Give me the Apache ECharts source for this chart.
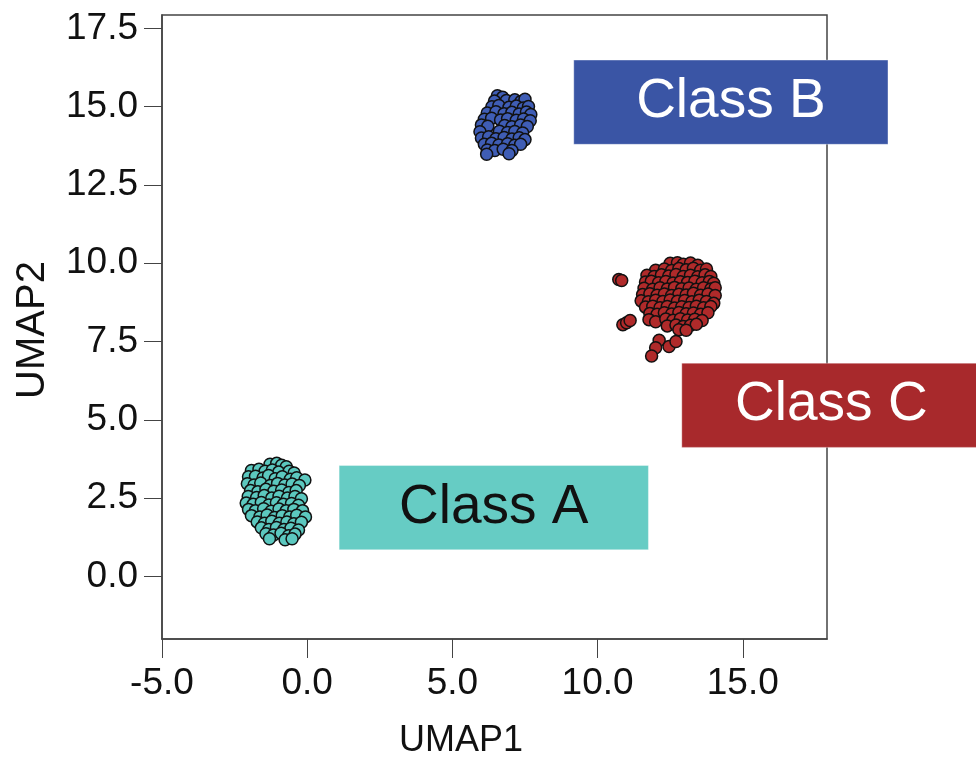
<!DOCTYPE html>
<html><head><meta charset="utf-8">
<script src="https://cdn.jsdelivr.net/npm/echarts@6/dist/echarts.min.js"></script>
<style>html,body{margin:0;padding:0;background:#fff}#c{width:976px;height:759px}</style>
</head><body><div id="c"></div>
<script>
const xTicks = [-5, 0, 5, 10, 15];
const yTicks = [0, 2.5, 5, 7.5, 10, 12.5, 15, 17.5];
const xName = 'UMAP1';
const yName = 'UMAP2';
const classNames = ['Class A', 'Class B', 'Class C'];

const classA = [
[-1.28,3.58],[-1.05,3.61],[-0.88,3.55],[-0.72,3.5],
[-1.92,3.38],[-1.66,3.42],[-1.45,3.36],[-1.2,3.4],[-0.98,3.33],[-0.62,3.36],[-0.45,3.3],
[-2.02,3.18],[-1.78,3.2],[-1.52,3.14],[-1.33,3.22],[-1.1,3.12],[-0.86,3.18],[-0.58,3.1],[-0.36,3.15],[-0.08,3.08],
[-2.06,2.96],[-1.83,2.92],[-1.6,2.98],[-1.27,2.9],[-1.02,2.97],[-0.77,2.92],[-0.52,2.95],[-0.27,2.9],
[-1.95,2.74],[-1.7,2.7],[-1.42,2.78],[-1.15,2.72],[-0.88,2.76],[-0.63,2.68],[-0.38,2.74],
[-2.03,2.55],[-1.74,2.52],[-1.48,2.58],[-1.22,2.5],[-0.97,2.56],[-0.68,2.5],[-0.42,2.55],[-0.2,2.48],
[-2.1,2.34],[-1.86,2.3],[-1.58,2.36],[-1.32,2.28],[-1.06,2.35],[-0.82,2.3],[-0.54,2.33],[-0.3,2.27],
[-2.02,2.14],[-1.78,2.1],[-1.5,2.16],[-1.24,2.08],[-0.97,2.15],[-0.72,2.1],[-0.46,2.14],[-0.16,2.1],
[-1.92,1.94],[-1.63,1.9],[-1.38,1.96],[-1.12,1.88],[-0.86,1.94],[-0.6,1.9],[-0.36,1.95],[-0.06,1.9],
[-1.72,1.74],[-1.47,1.7],[-1.22,1.76],[-0.96,1.7],[-0.7,1.74],[-0.46,1.68],[-0.2,1.73],
[-1.58,1.55],[-1.32,1.5],[-1.06,1.56],[-0.8,1.5],[-0.56,1.54],[-0.3,1.48],
[-1.42,1.36],[-1.16,1.32],[-0.9,1.38],[-0.64,1.3],[-0.42,1.35],
[-1.3,1.2],[-0.76,1.17],[-0.52,1.2]
];

const classB = [
[6.55,15.35],[6.73,15.3],
[6.45,15.18],[6.86,15.2],[7.15,15.22],[7.36,15.17],[7.5,15.24],
[6.36,15.0],[6.6,15.04],[6.95,14.98],[7.2,15.02],[7.44,14.96],[7.62,15.01],
[6.2,14.8],[6.5,14.84],[6.78,14.78],[7.05,14.82],[7.3,14.77],[7.55,14.83],[7.7,14.75],
[6.1,14.6],[6.35,14.63],[6.66,14.58],[6.9,14.62],[7.2,14.57],[7.45,14.61],[7.68,14.55],
[6.0,14.42],[6.22,14.38],[6.8,14.4],[7.05,14.36],[7.35,14.42],[7.58,14.37],
[5.95,14.2],[6.62,14.22],[6.9,14.18],[7.15,14.21],[7.42,14.16],
[6.0,14.0],[6.25,14.04],[6.5,13.98],[6.78,14.02],[7.05,13.97],[7.3,14.01],[7.5,13.95],
[6.1,13.8],[6.35,13.83],[6.6,13.78],[6.9,13.82],[7.15,13.77],[7.35,13.8],
[6.2,13.62],[6.46,13.6],[6.75,13.64],[7.05,13.6],
[6.18,13.48],[6.95,13.5]
];

const classC = [
[10.73,9.48],[10.83,9.45],
[10.87,8.04],[11.0,8.1],[11.12,8.17],
[12.12,7.54],[12.0,7.3],[11.86,7.04],[12.46,7.34],[12.7,7.5],
[12.5,10.0],[12.75,10.02],[12.95,9.97],[13.2,10.01],[13.45,9.94],
[12.0,9.78],[12.3,9.82],[12.55,9.77],[12.8,9.83],[13.05,9.79],[13.3,9.84],[13.55,9.78],[13.75,9.82],
[11.7,9.62],[11.95,9.58],[12.2,9.63],[12.45,9.59],[12.7,9.64],[12.95,9.58],[13.2,9.62],[13.45,9.57],[13.7,9.63],[13.9,9.58],
[11.65,9.4],[11.85,9.43],[12.1,9.38],[12.35,9.42],[12.6,9.37],[12.85,9.41],[13.1,9.39],[13.35,9.43],[13.6,9.38],[13.85,9.42],[14.0,9.36],
[11.6,9.2],[11.9,9.17],[12.15,9.22],[12.4,9.18],[12.65,9.23],[12.9,9.19],[13.15,9.21],[13.4,9.17],[13.65,9.22],[13.9,9.18],[14.05,9.22],
[11.55,9.0],[11.8,9.03],[12.05,8.98],[12.3,9.02],[12.55,8.97],[12.8,9.01],[13.05,8.99],[13.3,9.04],[13.55,8.98],[13.8,9.02],[14.05,8.97],
[11.5,8.8],[11.75,8.77],[12.0,8.82],[12.25,8.78],[12.5,8.83],[12.75,8.79],[13.0,8.81],[13.25,8.77],[13.5,8.82],[13.75,8.78],[14.0,8.72],
[11.65,8.6],[11.9,8.63],[12.15,8.58],[12.4,8.62],[12.65,8.57],[12.9,8.61],[13.15,8.59],[13.4,8.63],[13.65,8.58],[13.9,8.62],
[11.8,8.4],[12.05,8.37],[12.3,8.42],[12.55,8.38],[12.8,8.43],[13.05,8.39],[13.3,8.41],[13.55,8.37],[13.8,8.42],
[11.77,8.2],[12.0,8.13],[12.35,8.22],[12.6,8.18],[12.85,8.23],[13.1,8.19],[13.35,8.21],[13.6,8.17],
[12.4,8.0],[12.7,8.03],[12.95,7.98],[13.2,8.02],[13.4,8.05],
[12.8,7.88],[13.05,7.86]
];

// label box extents in data units: [x0, x1, y0, y1]
const boxA = [1.1, 11.75, 0.85, 3.54];
const boxB = [9.18, 20.0, 13.8, 16.49];
const boxC = [12.9, 23.2, 4.12, 6.81];

const pointColors = ['#5cc8bf', '#3f5db5', '#b02a2a'];
const boxColors = ['#66ccc4', '#3a55a5', '#a8292c'];
const boxTextColors = ['#111111', '#ffffff', '#ffffff'];

const chart = echarts.init(document.getElementById('c'));
const font = 'Liberation Sans, Arial, sans-serif';

function scatter(data, i) {
  return {
    type: 'scatter', data: data, symbolSize: 12,
    itemStyle: { color: pointColors[i], borderColor: '#111', borderWidth: 1.5, opacity: 1 },
    emphasis: { disabled: true }, z: 2
  };
}

chart.setOption({
  animation: false,
  backgroundColor: '#fff',
  grid: { left: 162, top: 15, width: 665, height: 624, show: true, borderColor: '#444', borderWidth: 1.5, backgroundColor: 'transparent' },
  xAxis: {
    type: 'value', min: -5, max: 17.9,
    axisLine: { show: true, onZero: false, lineStyle: { color: '#444', width: 1.5 } },
    axisTick: { show: true, length: 19, lineStyle: { color: '#444', width: 1 }, customValues: xTicks },
    axisLabel: { customValues: xTicks, formatter: v => v.toFixed(1), fontSize: 37, color: '#111', fontFamily: font, margin: 26 },
    splitLine: { show: false }
  },
  yAxis: {
    type: 'value', min: -2, max: 17.93,
    axisLine: { show: true, onZero: false, lineStyle: { color: '#444', width: 1.5 } },
    axisTick: { show: true, length: 18, lineStyle: { color: '#444', width: 1 }, customValues: yTicks },
    axisLabel: { customValues: yTicks, formatter: v => v.toFixed(1), fontSize: 37, color: '#111', fontFamily: font, margin: 24 },
    splitLine: { show: false }
  },
  graphic: [
    { type: 'text', x: 461, y: 741, style: { text: xName, fontSize: 36, fontFamily: font, fill: '#111', textAlign: 'center', textVerticalAlign: 'middle' } },
    { type: 'text', x: 33, y: 330, rotation: Math.PI / 2, style: { text: yName, fontSize: 40, fontFamily: font, fill: '#111', textAlign: 'center', textVerticalAlign: 'middle' } }
  ],
  series: [
    scatter(classA, 0), scatter(classB, 1), scatter(classC, 2),
    {
      type: 'custom', clip: false, z: 5,
      encode: { x: [0, 1], y: [2, 3] },
      data: [boxA, boxB, boxC],
      renderItem: function (params, api) {
        const i = params.dataIndex;
        const p0 = api.coord([api.value(0), api.value(3)]);
        const p1 = api.coord([api.value(1), api.value(2)]);
        return {
          type: 'rect',
          shape: { x: p0[0], y: p0[1], width: p1[0] - p0[0], height: p1[1] - p0[1] },
          style: { fill: boxColors[i], stroke: 'rgba(255,255,255,0.35)', lineWidth: 1 },
          textContent: { style: { text: classNames[i], fill: boxTextColors[i], fontSize: 55, fontFamily: font } },
          textConfig: { position: 'inside' }
        };
      }
    }
  ]
});
</script>
</body></html>
